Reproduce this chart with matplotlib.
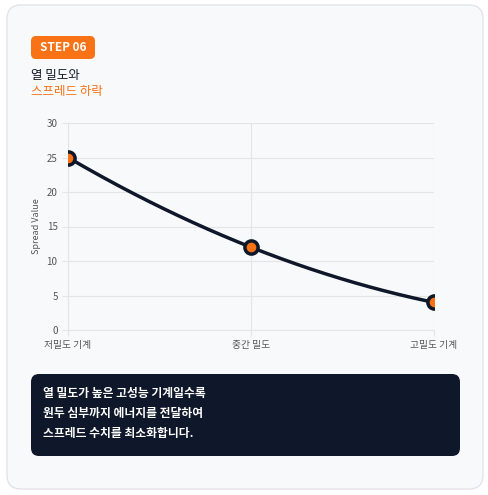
import numpy as np
import matplotlib.pyplot as plt
from matplotlib.patches import FancyBboxPatch

plt.rcParams['font.family'] = ['Noto Sans CJK KR', 'DejaVu Sans']

categories = ["저밀도 기계", "중간 밀도", "고밀도 기계"]
spread = [25, 12, 4]
y_ticks = [0, 5, 10, 15, 20, 25, 30]

W, H = 489, 495
fig = plt.figure(figsize=(W / 100, H / 100), dpi=100)
fig.patch.set_facecolor("white")


def px(x, y, w, h):
    # pixel box (top-left origin) -> figure fraction
    return x / W, 1 - (y + h) / H, w / W, h / H


# ── card + badge + box ───────────────────────────────────────────────────
bg = fig.add_axes([0, 0, 1, 1])
bg.set_xlim(0, W); bg.set_ylim(H, 0); bg.axis("off")
bg.add_patch(FancyBboxPatch((7, 5), 476, 484, boxstyle="round,pad=0,rounding_size=14",
                            fc="#f8f9fb", ec="#e2e4e8", lw=1))
bg.add_patch(FancyBboxPatch((31, 36), 64, 23, boxstyle="round,pad=0,rounding_size=5",
                            fc="#f97316", ec="none"))
bg.text(63, 47.5, "STEP 06", color="white", fontsize=8.5, fontweight="bold",
        ha="center", va="center")
bg.text(31, 75, "열 밀도와", color="#111827", fontsize=9, va="center")
bg.text(31, 91, "스프레드 하락", color="#f97316", fontsize=9, va="center")
bg.add_patch(FancyBboxPatch((31, 374), 429, 82, boxstyle="round,pad=0,rounding_size=8",
                            fc="#0f172a", ec="none"))
bg.text(43, 414, "열 밀도가 높은 고성능 기계일수록\n원두 심부까지 에너지를 전달하여\n스프레드 수치를 최소화합니다.",
        color="white", fontsize=8.5, fontweight="bold", va="center", linespacing=1.7)

# ── chart ────────────────────────────────────────────────────────────────
ax = fig.add_axes(px(68, 123, 366, 207))
ax.set_facecolor("none")
x = np.arange(len(categories))
coef = np.polyfit(x, spread, 2)
xs = np.linspace(0, len(categories) - 1, 200)
ax.plot(xs, np.polyval(coef, xs), color="#0f172a", lw=2.5, zorder=3)
ax.scatter(x, spread, s=90, color="#f97316", edgecolor="#0f172a", linewidth=2.5, zorder=4)
ax.set_xlim(0, len(categories) - 1)
ax.set_ylim(0, 30)
ax.set_yticks(y_ticks)
ax.set_xticks(x)
ax.set_xticklabels(categories, fontsize=7, color="#555555")
ax.tick_params(axis="y", labelsize=7, labelcolor="#555555", length=4, color="#e5e5e5")
ax.tick_params(axis="x", length=4, color="#e5e5e5")
ax.grid(color="#e5e5e5", lw=0.8)
for s in ax.spines.values():
    s.set_visible(False)
ax.spines["left"].set_visible(True); ax.spines["left"].set_color("#e5e5e5")
ax.spines["bottom"].set_visible(True); ax.spines["bottom"].set_color("#e5e5e5")
ax.set_ylabel("Spread Value", fontsize=6.5, color="#555555")
for lbl, ha in zip(ax.get_xticklabels(), ["center", "center", "center"]):
    lbl.set_ha(ha)

fig.savefig("out.png", dpi=100)
